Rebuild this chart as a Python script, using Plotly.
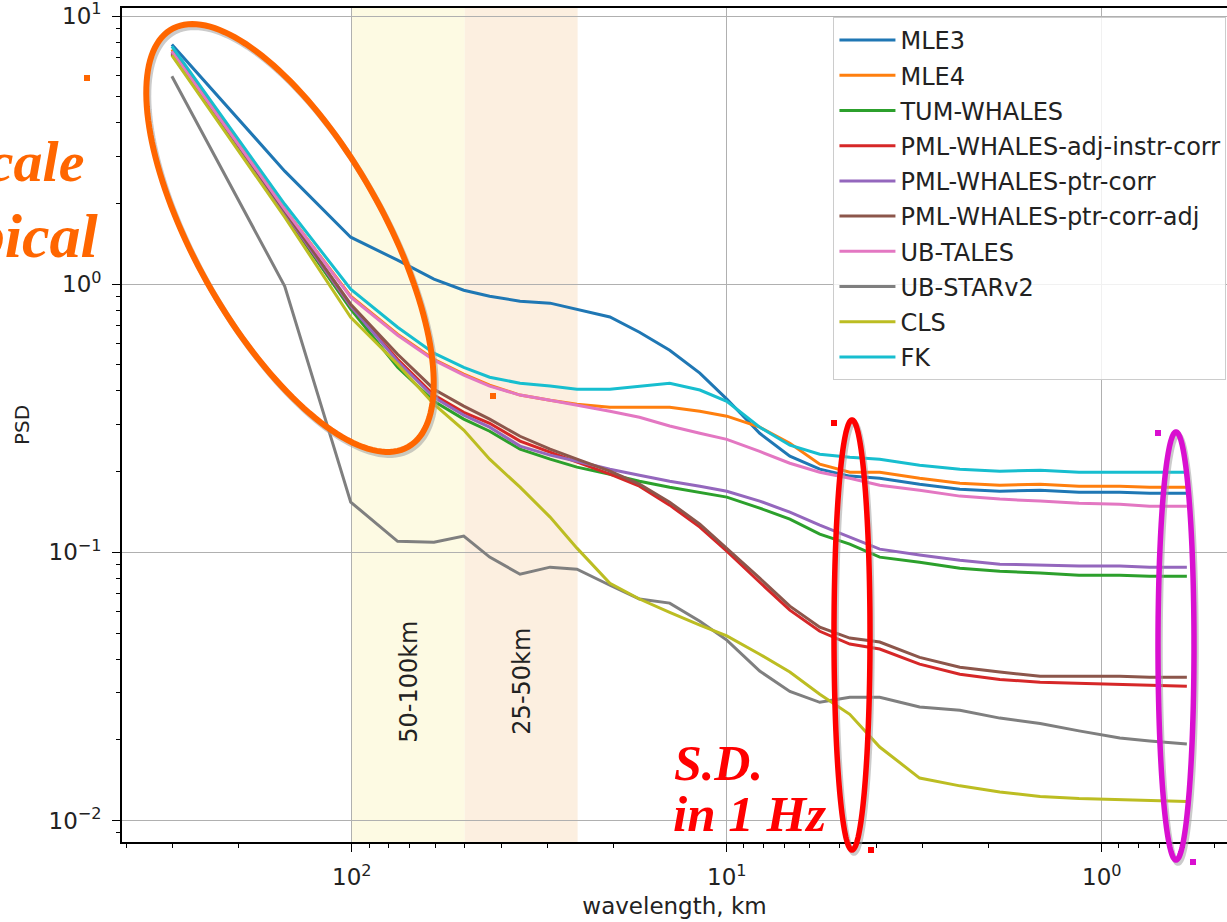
import numpy as np
import plotly.graph_objects as go

# ---------------- data ----------------
wavelength_km = [302, 151, 100.7, 75.5, 60.4, 50.3, 42.9, 35.6, 29.6, 25.1, 20.5, 17.1,
                 14.2, 11.8, 10.0, 8.17, 6.79, 5.65, 4.70, 3.91, 3.06, 2.39, 1.87, 1.46,
                 1.15, 0.895, 0.745, 0.593]

mle3 = [7.84, 2.64, 1.497, 1.229, 1.044, 0.950, 0.902, 0.864, 0.850, 0.807, 0.755, 0.662,
        0.567, 0.466, 0.373, 0.278, 0.2285, 0.2043, 0.1925, 0.1891, 0.1796, 0.1721, 0.1691,
        0.1706, 0.1677, 0.1677, 0.1663, 0.1663]
mle4 = [7.51, 1.903, 0.902, 0.651, 0.525, 0.462, 0.420, 0.386, 0.369, 0.357, 0.348, 0.348,
        0.348, 0.336, 0.322, 0.293, 0.255, 0.2133, 0.1991, 0.1991, 0.1891, 0.1811, 0.1781,
        0.1796, 0.1765, 0.1765, 0.1750, 0.1750]
tum_whales = [7.196, 1.823, 0.807, 0.490, 0.366, 0.314, 0.283, 0.2425, 0.2226, 0.2079, 0.1957,
              0.1843, 0.1750, 0.1677, 0.1607, 0.1462, 0.1331, 0.1169, 0.1073, 0.0960, 0.0919,
              0.0873, 0.0851, 0.0837, 0.0822, 0.0822, 0.0815, 0.0815]
pml_adj_instr = [7.26, 1.839, 0.828, 0.525, 0.386, 0.333, 0.303, 0.260, 0.2364, 0.2169, 0.1957,
                 0.1765, 0.150, 0.1242, 0.101, 0.0774, 0.0609, 0.0508, 0.0455, 0.0436, 0.0383,
                 0.0351, 0.0336, 0.0328, 0.0325, 0.0322, 0.0319, 0.0317]
pml_ptr = [7.32, 1.855, 0.828, 0.516, 0.379, 0.325, 0.293, 0.249, 0.2304, 0.2188, 0.2043, 0.194,
           0.1843, 0.1765, 0.1691, 0.1553, 0.1412, 0.1263, 0.1139, 0.1028, 0.0977, 0.0935,
           0.0904, 0.0896, 0.0889, 0.0889, 0.0881, 0.0881]
pml_ptr_adj = [7.38, 1.871, 0.842, 0.548, 0.406, 0.351, 0.314, 0.271, 0.2425, 0.2226, 0.2008,
               0.1796, 0.1539, 0.1274, 0.1037, 0.0801, 0.063, 0.0526, 0.0479, 0.0463, 0.0406,
               0.0373, 0.0358, 0.0345, 0.0345, 0.0345, 0.0342, 0.0342]
ub_tales = [7.38, 1.903, 0.894, 0.645, 0.521, 0.458, 0.417, 0.386, 0.369, 0.354, 0.336, 0.319,
            0.296, 0.278, 0.264, 0.238, 0.215, 0.1991, 0.1891, 0.1781, 0.1706, 0.1621, 0.158,
            0.1553, 0.1526, 0.1513, 0.1487, 0.1487]
ub_starv2 = [5.96, 0.983, 0.154, 0.110, 0.109, 0.115, 0.096, 0.0829, 0.0881, 0.0866, 0.0754,
             0.067, 0.0647, 0.0554, 0.0471, 0.0361, 0.0303, 0.0276, 0.0288, 0.0288, 0.0265,
             0.0258, 0.0241, 0.023, 0.0216, 0.0203, 0.0198, 0.0193]
cls = [7.13, 1.777, 0.753, 0.503, 0.357, 0.286, 0.2226, 0.175, 0.1354, 0.1037, 0.0767, 0.067,
       0.0598, 0.0535, 0.0488, 0.0417, 0.0358, 0.0296, 0.0249, 0.0188, 0.0144, 0.01347,
       0.01279, 0.01229, 0.01208, 0.01197, 0.01187, 0.01177]
fk = [7.71, 1.987, 0.958, 0.691, 0.553, 0.490, 0.450, 0.427, 0.417, 0.406, 0.406, 0.417, 0.427,
      0.403, 0.366, 0.293, 0.251, 0.2324, 0.2265, 0.2226, 0.2115, 0.2043, 0.2008, 0.2025,
      0.1991, 0.1991, 0.1991, 0.1991]

series_names = ["MLE3", "MLE4", "TUM-WHALES", "PML-WHALES-adj-instr-corr", "PML-WHALES-ptr-corr",
                "PML-WHALES-ptr-corr-adj", "UB-TALES", "UB-STARv2", "CLS", "FK"]
series_values = [mle3, mle4, tum_whales, pml_adj_instr, pml_ptr, pml_ptr_adj, ub_tales,
                 ub_starv2, cls, fk]
series_colors = ["#1f77b4", "#ff7f0e", "#2ca02c", "#d62728", "#9467bd", "#8c564b", "#e377c2",
                 "#7f7f7f", "#bcbd22", "#17becf"]

bands = [(100, 50, "50-100km", "#fdfae3"), (50, 25, "25-50km", "#fcefe0")]

x_tick_vals = [100, 10, 1]
x_tick_text = ["10<sup>2</sup>", "10<sup>1</sup>", "10<sup>0</sup>"]
y_tick_vals = [10, 1, 0.1, 0.01]
y_tick_text = ["10<sup>1</sup>", "10<sup>0</sup>", "10<sup>−1</sup>", "10<sup>−2</sup>"]

# ---------------- layout geometry ----------------
W, H = 1227, 922
ML, MR, MT, MB = 122, 0, 8, 80
PW, PH = W - ML - MR, H - MT - MB
x_range_log = [2.613, -0.334]
y_range_log = [-2.08, 1.03]

FONT = "DejaVu Sans"

fig = go.Figure()

for name, vals, col in zip(series_names, series_values, series_colors):
    fig.add_trace(go.Scatter(x=wavelength_km, y=vals, mode="lines", name=name,
                             legendgroup=name,
                             line=dict(color=col, width=3)))

# shaded bands
for x0, x1, lab, col in bands:
    fig.add_shape(type="rect", xref="x", yref="paper", x0=x0, x1=x1, y0=0, y1=1,
                  fillcolor=col, line=dict(width=0), layer="below")
    fig.add_annotation(x=np.log10(np.sqrt(x0 * x1)), y=np.log10(0.033), xref="x", yref="y",
                       text=lab, textangle=-90, showarrow=False,
                       font=dict(family=FONT, size=24, color="#222222"))


def px2paper(px, py):
    return (np.asarray(px) - ML) / PW, (MT + PH - np.asarray(py)) / PH


def ellipse_path(cx, cy, a, b, ang_deg, n=160):
    t = np.linspace(0, 2 * np.pi, n)
    ang = np.radians(ang_deg)
    px = cx + a * np.cos(t) * np.cos(ang) - b * np.sin(t) * np.sin(ang)
    py = cy + a * np.cos(t) * np.sin(ang) + b * np.sin(t) * np.cos(ang)
    X, Y = px2paper(px, py)
    return "M " + " L ".join(f"{x:.5f},{y:.5f}" for x, y in zip(X, Y)) + " Z"


ellipses = [  # (cx, cy, a, b, angle, color, width)
    (290, 238, 240, 94, 60.5, "#ff6600", 6),
    (852, 635, 215, 18, 90, "#ff0000", 5.5),
    (1176, 646, 214, 18, 90, "#d90fd0", 5.5),
]
for cx, cy, a, b, ang, col, w in ellipses:
    fig.add_shape(type="path", xref="paper", yref="paper",
                  path=ellipse_path(cx + 2, cy + 3, a, b, ang),
                  line=dict(color="rgba(160,160,160,0.55)", width=w), layer="above")
    fig.add_shape(type="path", xref="paper", yref="paper",
                  path=ellipse_path(cx, cy, a, b, ang),
                  line=dict(color=col, width=w), layer="above")

# little selection-handle squares
handles = [(87, 78, "#ff6600"), (493, 396, "#ff6600"), (834, 423, "#ff0000"),
           (871, 850, "#ff0000"), (1158, 433, "#d90fd0"), (1193, 862, "#d90fd0")]
for hx, hy, col in handles:
    (gx0, gx1), (gy1, gy0) = px2paper([hx - 3, hx + 3], [hy - 3, hy + 3])
    fig.add_shape(type="rect", xref="paper", yref="paper", x0=gx0, x1=gx1, y0=gy0, y1=gy1,
                  fillcolor=col, line=dict(width=0), layer="above")

# overlay texts
def add_px_text(text, px, py, color, size, anchor="left"):
    X, Y = px2paper(px, py)
    fig.add_annotation(x=float(X), y=float(Y), xref="paper", yref="paper", text=text,
                       showarrow=False, xanchor=anchor, yanchor="middle",
                       font=dict(family="Liberation Serif", size=size, color=color))

add_px_text("<b><i>Large scale</i></b>", 86, 162, "#ff6600", 58, "right")
add_px_text("<b><i>typical</i></b>", 100, 236, "#ff6600", 62, "right")
add_px_text("<b><i>S.D.</i></b>", 672, 763, "#ff0000", 50, "left")
add_px_text("<b><i>in 1 Hz</i></b>", 671, 814, "#ff0000", 51, "left")

minor_x = [m * 10.0 ** k for k in (2, 1, 0, -1) for m in range(2, 10)]
minor_y = [m * 10.0 ** k for k in (-3, -2, -1, 0) for m in range(2, 10)]

fig.update_xaxes(type="log", range=x_range_log, tickmode="array", tickvals=x_tick_vals,
                 ticktext=x_tick_text, ticks="outside", ticklen=8, tickwidth=1.3,
                 tickcolor="black", showline=True, linecolor="black", linewidth=1.6,
                 mirror=True, showgrid=True, gridcolor="#b0b0b0", gridwidth=1.2,
                 zeroline=False, ticklabelstandoff=6, ticklabeloverflow="allow",
                 tickfont=dict(family=FONT, size=23, color="#222222"),
                 minor=dict(tickmode="array", tickvals=minor_x, ticks="outside", ticklen=4.5,
                            tickwidth=1, tickcolor="black", showgrid=False),
                 title=dict(text="wavelength, km", standoff=8,
                            font=dict(family=FONT, size=23, color="#222222")))
fig.update_yaxes(type="log", range=y_range_log, tickmode="array", tickvals=y_tick_vals,
                 ticktext=y_tick_text, ticks="outside", ticklen=8, tickwidth=1.3,
                 tickcolor="black", showline=True, linecolor="black", linewidth=1.6,
                 showgrid=True, gridcolor="#b0b0b0", gridwidth=1.2, zeroline=False,
                 ticklabelstandoff=6, ticklabeloverflow="allow",
                 tickfont=dict(family=FONT, size=23, color="#222222"),
                 minor=dict(tickmode="array", tickvals=minor_y, ticks="outside", ticklen=4.5,
                            tickwidth=1, tickcolor="black", showgrid=False),
                 title=dict(text="PSD", standoff=14,
                            font=dict(family=FONT, size=20, color="#222222")))

fig.update_layout(
    width=W, height=H,
    margin=dict(l=ML, r=MR, t=MT, b=MB),
    paper_bgcolor="white", plot_bgcolor="white",
    showlegend=True,
    legend=dict(x=0.9995, y=(PH - 9) / PH, xanchor="right", yanchor="top",
                bgcolor="rgba(255,255,255,0.82)", bordercolor="#cccccc", borderwidth=1,
                font=dict(family=FONT, size=24, color="#222222"),
                tracegroupgap=1, itemwidth=56),
)

fig.write_html("out.html")
